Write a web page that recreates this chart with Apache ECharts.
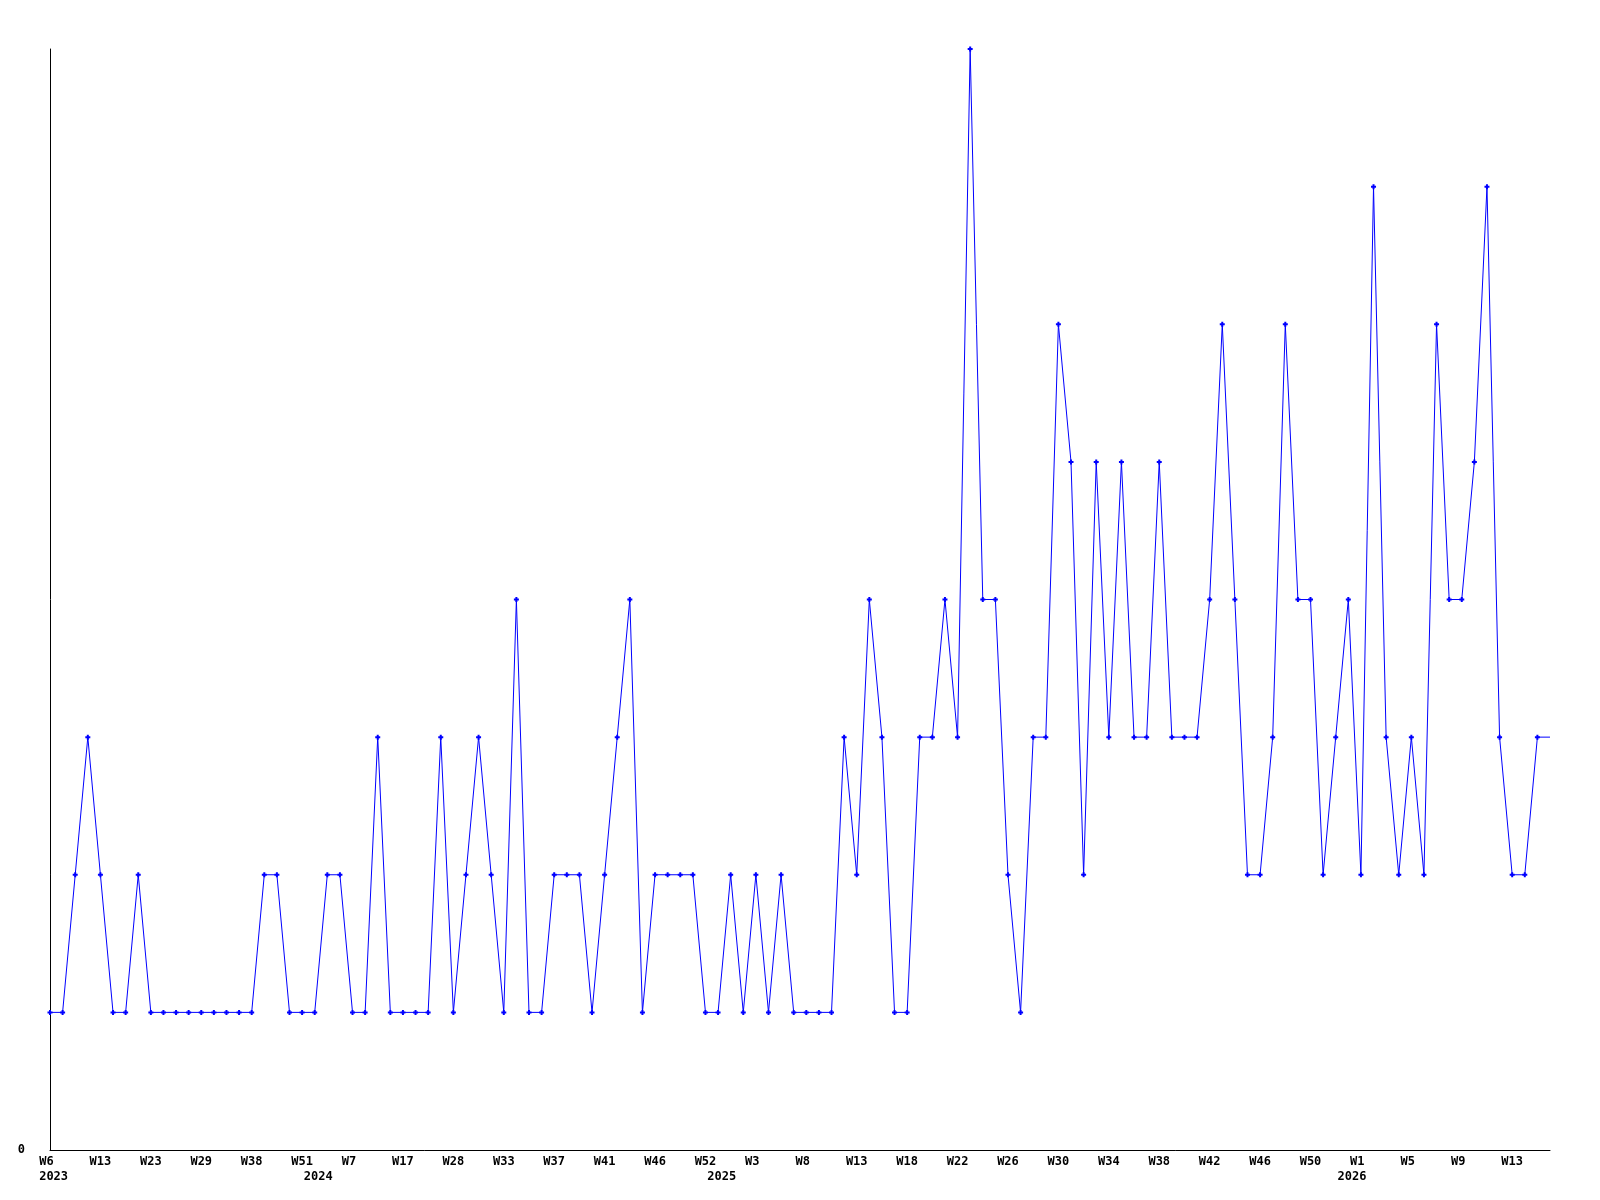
<!DOCTYPE html>
<html>
<head>
<meta charset="utf-8">
<script src="https://cdn.jsdelivr.net/npm/echarts@6/dist/echarts.min.js"></script>
<style>
html,body{margin:0;padding:0;background:#fff;}
#chart{width:1600px;height:1200px;}
</style>
</head>
<body>
<div id="chart"></div>
<script>
// Categories: year + week of each sampled point
const categories = [
  "2023 W6","2023 W7","2023 W9","2023 W11","2023 W13","2023 W15","2023 W18","2023 W20","2023 W23","2023 W24",
  "2023 W26","2023 W27","2023 W29","2023 W31","2023 W33","2023 W35","2023 W38","2023 W41","2023 W44","2023 W47",
  "2023 W51","2024 W1","2024 W3","2024 W5","2024 W7","2024 W10","2024 W12","2024 W15","2024 W17","2024 W20",
  "2024 W23","2024 W26","2024 W28","2024 W29","2024 W30","2024 W32","2024 W33","2024 W34","2024 W35","2024 W36",
  "2024 W37","2024 W38","2024 W39","2024 W40","2024 W41","2024 W42","2024 W43","2024 W45","2024 W46","2024 W48",
  "2024 W49","2024 W51","2024 W52","2025 W0","2025 W1","2025 W2","2025 W3","2025 W4","2025 W5","2025 W7",
  "2025 W8","2025 W9","2025 W10","2025 W11","2025 W13","2025 W14","2025 W15","2025 W16","2025 W18","2025 W19",
  "2025 W20","2025 W21","2025 W22","2025 W23","2025 W24","2025 W25","2025 W26","2025 W27","2025 W28","2025 W29",
  "2025 W30","2025 W31","2025 W32","2025 W33","2025 W34","2025 W35","2025 W36","2025 W37","2025 W38","2025 W39",
  "2025 W40","2025 W41","2025 W42","2025 W43","2025 W44","2025 W45","2025 W46","2025 W47","2025 W48","2025 W49",
  "2025 W50","2025 W51","2025 W52","2026 W0","2026 W1","2026 W2","2026 W3","2026 W4","2026 W5","2026 W6",
  "2026 W7","2026 W8","2026 W9","2026 W10","2026 W11","2026 W12","2026 W13","2026 W14","2026 W15","2026 W16"
];
const values = [
  1,1,2,3,2,1,1,2,1,1,
  1,1,1,1,1,1,1,2,2,1,
  1,1,2,2,1,1,3,1,1,1,
  1,3,1,2,3,2,1,4,1,1,
  2,2,2,1,2,3,4,1,2,2,
  2,2,1,1,2,1,2,1,2,1,
  1,1,1,3,2,4,3,1,1,3,
  3,4,3,8,4,4,2,1,3,3,
  6,5,2,5,3,5,3,3,5,3,
  3,3,4,6,4,2,2,3,6,4,
  4,2,3,4,2,7,3,2,3,2,
  6,4,4,5,7,3,2,2,3,3
];
const yMin = 0, yMax = 8;
const yTickLabels = ["0"];

const FONT = '"DejaVu Sans Mono", "Liberation Mono", monospace';
const yearOf = c => c.split(" ")[0];
const weekOf = c => c.split(" ")[1];

const chart = echarts.init(document.getElementById('chart'), null, {renderer: 'canvas'});
const plus = 'path://M1.5,0H3.5V1.5H5V3.5H3.5V5H1.5V3.5H0V1.5H1.5Z';

chart.setOption({
  animation: false,
  backgroundColor: '#ffffff',
  grid: {left: 50, right: 50, top: 49, bottom: 50, containLabel: false},
  xAxis: [
    {
      type: 'category',
      data: categories,
      boundaryGap: false,
      position: 'bottom',
      axisLine: {show: true, lineStyle: {color: '#000', width: 1}},
      axisTick: {show: false},
      splitLine: {show: false},
      axisLabel: {
        interval: (i) => i % 4 === 0,
        margin: 6,
        color: '#000',
        fontFamily: FONT,
        fontWeight: 'bold',
        fontSize: 12,
        formatter: v => { let w = weekOf(v); while (w.length < 3) w += ' '; return w; }
      }
    },
    {
      type: 'category',
      data: categories,
      boundaryGap: false,
      position: 'bottom',
      axisLine: {show: false},
      axisTick: {show: false},
      splitLine: {show: false},
      axisLabel: {
        interval: (i) => i === 0 || yearOf(categories[i]) !== yearOf(categories[i - 1]),
        margin: 21,
        color: '#000',
        fontFamily: FONT,
        fontWeight: 'bold',
        fontSize: 12,
        formatter: v => ' ' + yearOf(v)
      }
    }
  ],
  yAxis: {
    type: 'value',
    min: yMin,
    max: yMax,
    interval: 8,
    axisLine: {show: true, lineStyle: {color: '#000', width: 1}},
    axisTick: {show: false},
    splitLine: {show: false},
    axisLabel: {
      margin: 25,
      color: '#000',
      fontFamily: FONT,
      fontWeight: 'bold',
      fontSize: 12,
      formatter: v => (yTickLabels.indexOf(String(v)) >= 0 ? String(v) : '')
    }
  },
  series: [{
    type: 'line',
    xAxisIndex: 0,
    data: values.map((v, i) => i === values.length - 1 ? {value: v, symbol: 'none'} : v),
    symbol: plus,
    symbolSize: 5,
    showAllSymbol: true,
    lineStyle: {color: '#0000ff', width: 1},
    itemStyle: {color: '#0000ff'},
    clip: true
  }]
});
</script>
</body>
</html>
